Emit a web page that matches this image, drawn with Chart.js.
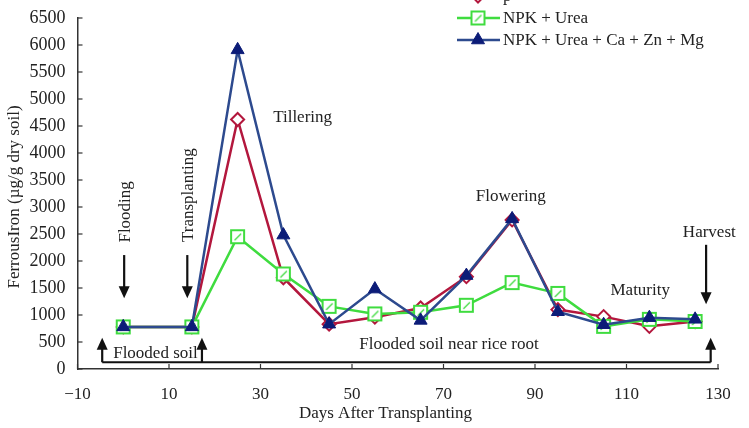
<!DOCTYPE html>
<html>
<head>
<meta charset="utf-8">
<script src="https://cdn.jsdelivr.net/npm/chart.js@4.4.1/dist/chart.umd.min.js"></script>
<style>
  body { margin: 0; background: #fff; }
</style>
</head>
<body>
<canvas id="ironChart" width="749" height="428"></canvas>
<script>
// days after transplanting and ferrous iron readings (µg/g dry soil)
const days = [0, 15, 25, 35, 45, 55, 65, 75, 85, 95, 105, 115, 125];
const seriesNames = ["p", "NPK + Urea", "NPK + Urea + Ca + Zn + Mg"];
const ironP = [780, 780, 4620, 1690, 830, 960, 1130, 1710, 2760, 1100, 970, 790, 880];
const ironNpkUrea = [780, 780, 2450, 1760, 1160, 1020, 1050, 1180, 1600, 1400, 790, 920, 880];
const ironNpkUreaCaZnMg = [780, 780, 5910, 2480, 830, 1480, 900, 1730, 2780, 1060, 820, 950, 920];
const xTicks = [-10, 10, 30, 50, 70, 90, 110, 130];

const FONT = '"Liberation Serif", "Times New Roman", serif';
const RED = "#b3173d";
const GREEN = "#3fdc3f";
const BLUE_LINE = "#2d4a8e";
const BLUE_MARK = "#0c1c78";

// open green square with the little slash seen in the original markers
function squareMarker() {
  const c = document.createElement("canvas");
  c.width = 17; c.height = 17;
  const g = c.getContext("2d");
  g.fillStyle = "#fff";
  g.fillRect(2, 2, 13, 13);
  g.strokeStyle = GREEN;
  g.lineWidth = 2;
  g.strokeRect(2, 2, 13, 13);
  g.lineWidth = 1.3;
  g.beginPath();
  g.moveTo(5.5, 12); g.lineTo(12, 5.5);
  g.stroke();
  return c;
}
const greenMarker = squareMarker();

const toPoints = (vals) => vals.map((v, i) => ({ x: days[i], y: v }));

function arrow(ctx, x, y1, y2) {
  const dir = y2 > y1 ? 1 : -1;
  ctx.beginPath();
  ctx.moveTo(x, y1);
  ctx.lineTo(x, y2 - dir * 10);
  ctx.stroke();
  ctx.beginPath();
  ctx.moveTo(x, y2);
  ctx.lineTo(x - 5.5, y2 - dir * 12);
  ctx.lineTo(x + 5.5, y2 - dir * 12);
  ctx.closePath();
  ctx.fill();
}

const decorations = {
  id: "decorations",
  afterDraw(chart) {
    const ctx = chart.ctx;
    const xs = chart.scales.x, ys = chart.scales.y;
    const px = (d) => xs.getPixelForValue(d);
    const py = (v) => ys.getPixelForValue(v);
    const area = chart.chartArea;

    ctx.save();
    // inward tick marks
    ctx.strokeStyle = "#333";
    ctx.lineWidth = 1.2;
    xs.ticks.forEach(t => {
      const x = px(t.value);
      ctx.beginPath(); ctx.moveTo(x, area.bottom); ctx.lineTo(x, area.bottom - 5); ctx.stroke();
    });
    ys.ticks.forEach(t => {
      const y = py(t.value);
      ctx.beginPath(); ctx.moveTo(area.left, y); ctx.lineTo(area.left + 5, y); ctx.stroke();
    });

    // axis titles
    ctx.fillStyle = "#222";
    ctx.font = "17px " + FONT;
    ctx.textAlign = "center";
    ctx.textBaseline = "middle";
    ctx.fillText("Days After Transplanting", 385.5, 414);
    ctx.save();
    ctx.translate(14.5, 197);
    ctx.rotate(-Math.PI / 2);
    ctx.fillText("FerrousIron (µg/g dry soil)", 0, 0);
    ctx.restore();

    // stage labels
    ctx.fillText("Tillering", px(39.2), py(4650));
    ctx.fillText("Flowering", px(84.7), py(3190));
    ctx.fillText("Harvest", px(128.1), py(2520));
    ctx.fillText("Maturity", px(113), py(1460));
    ctx.fillText("Flooded soil near rice root", px(71.2), py(445));
    ctx.textAlign = "left";
    ctx.fillText("Flooded soil", px(-2.2), py(280));
    ctx.textAlign = "center";
    [["Flooding", 0.4, 2910], ["Transplanting", 14.2, 3220]].forEach(([txt, d, v]) => {
      ctx.save();
      ctx.translate(px(d), py(v));
      ctx.rotate(-Math.PI / 2);
      ctx.fillText(txt, 0, 0);
      ctx.restore();
    });

    // arrows
    ctx.strokeStyle = "#111";
    ctx.fillStyle = "#111";
    ctx.lineWidth = 2.2;
    arrow(ctx, px(0.2), py(2110), py(1310));
    arrow(ctx, px(14), py(2110), py(1310));
    arrow(ctx, px(127.4), py(2300), py(1200));

    // flooded soil bracket
    const yb = py(125);
    ctx.beginPath();
    ctx.moveTo(px(-4.6), yb); ctx.lineTo(px(128.4), yb);
    ctx.stroke();
    [-4.6, 17.2, 128.4].forEach(d => arrow(ctx, px(d), yb, py(580)));

    // legend (top row is cut by the image edge)
    const rows = [-4, 18, 40];
    ctx.font = "17px " + FONT;
    ctx.textAlign = "left";
    chart.data.datasets.forEach((ds, i) => {
      const y = rows[i];
      ctx.strokeStyle = ds.borderColor;
      ctx.lineWidth = 2.5;
      ctx.beginPath(); ctx.moveTo(457, y); ctx.lineTo(500, y); ctx.stroke();
      if (ds.pointStyle === greenMarker) {
        ctx.drawImage(greenMarker, 478 - 8.5, y - 8.5);
      } else {
        ctx.fillStyle = ds.pointBackgroundColor;
        ctx.strokeStyle = ds.pointBorderColor;
        ctx.lineWidth = ds.pointBorderWidth;
        Chart.helpers.drawPoint(ctx, {
          pointStyle: ds.pointStyle, radius: ds.pointRadius, borderWidth: ds.pointBorderWidth
        }, 478, y);
      }
      ctx.fillStyle = "#222";
      ctx.textBaseline = "middle";
      ctx.fillText(seriesNames[i], 503, y + 1);
    });
    ctx.restore();
  }
};

new Chart(document.getElementById("ironChart"), {
  type: "line",
  data: {
    datasets: [
      {
        label: seriesNames[0],
        data: toPoints(ironP),
        borderColor: RED,
        borderWidth: 2.5,
        pointStyle: "rectRot",
        pointRadius: 6.5,
        pointBackgroundColor: "#fff",
        pointBorderColor: RED,
        pointBorderWidth: 2,
        order: 2
      },
      {
        label: seriesNames[1],
        data: toPoints(ironNpkUrea),
        borderColor: GREEN,
        borderWidth: 2.5,
        pointStyle: greenMarker,
        pointRadius: 8,
        order: 1
      },
      {
        label: seriesNames[2],
        data: toPoints(ironNpkUreaCaZnMg),
        borderColor: BLUE_LINE,
        borderWidth: 2.5,
        pointStyle: "triangle",
        pointRadius: 7.5,
        pointBackgroundColor: BLUE_MARK,
        pointBorderColor: BLUE_MARK,
        pointBorderWidth: 1,
        order: 0
      }
    ]
  },
  options: {
    responsive: false,
    animation: false,
    devicePixelRatio: 1,
    layout: { padding: { top: 18, right: 31, left: 0, bottom: 0 } },
    plugins: {
      legend: { display: false },
      tooltip: { enabled: false }
    },
    scales: {
      x: {
        type: "linear",
        min: -10,
        max: 130,
        afterBuildTicks: (scale) => { scale.ticks = xTicks.map(v => ({ value: v })); },
        afterFit: (scale) => { scale.height = 59; scale.paddingLeft = 0; scale.paddingRight = 0; },
        grid: { display: false, drawTicks: false },
        border: { display: true, color: "#333", width: 1.5 },
        ticks: {
          padding: 15,
          color: "#222",
          font: { family: FONT, size: 17 },
          maxRotation: 0,
          autoSkip: false,
          callback: (v) => (v < 0 ? "\u2212" + Math.abs(v) : String(v))
        }
      },
      y: {
        min: 0,
        max: 6500,
        afterFit: (scale) => { scale.width = 77.5; scale.paddingTop = 0; scale.paddingBottom = 0; },
        grid: { display: false, drawTicks: false },
        border: { display: true, color: "#333", width: 1.5 },
        ticks: {
          stepSize: 500,
          padding: 12,
          color: "#222",
          font: { family: FONT, size: 18 },
          autoSkip: false,
          callback: (v) => String(v)
        }
      }
    }
  },
  plugins: [decorations]
});
</script>
</body>
</html>
